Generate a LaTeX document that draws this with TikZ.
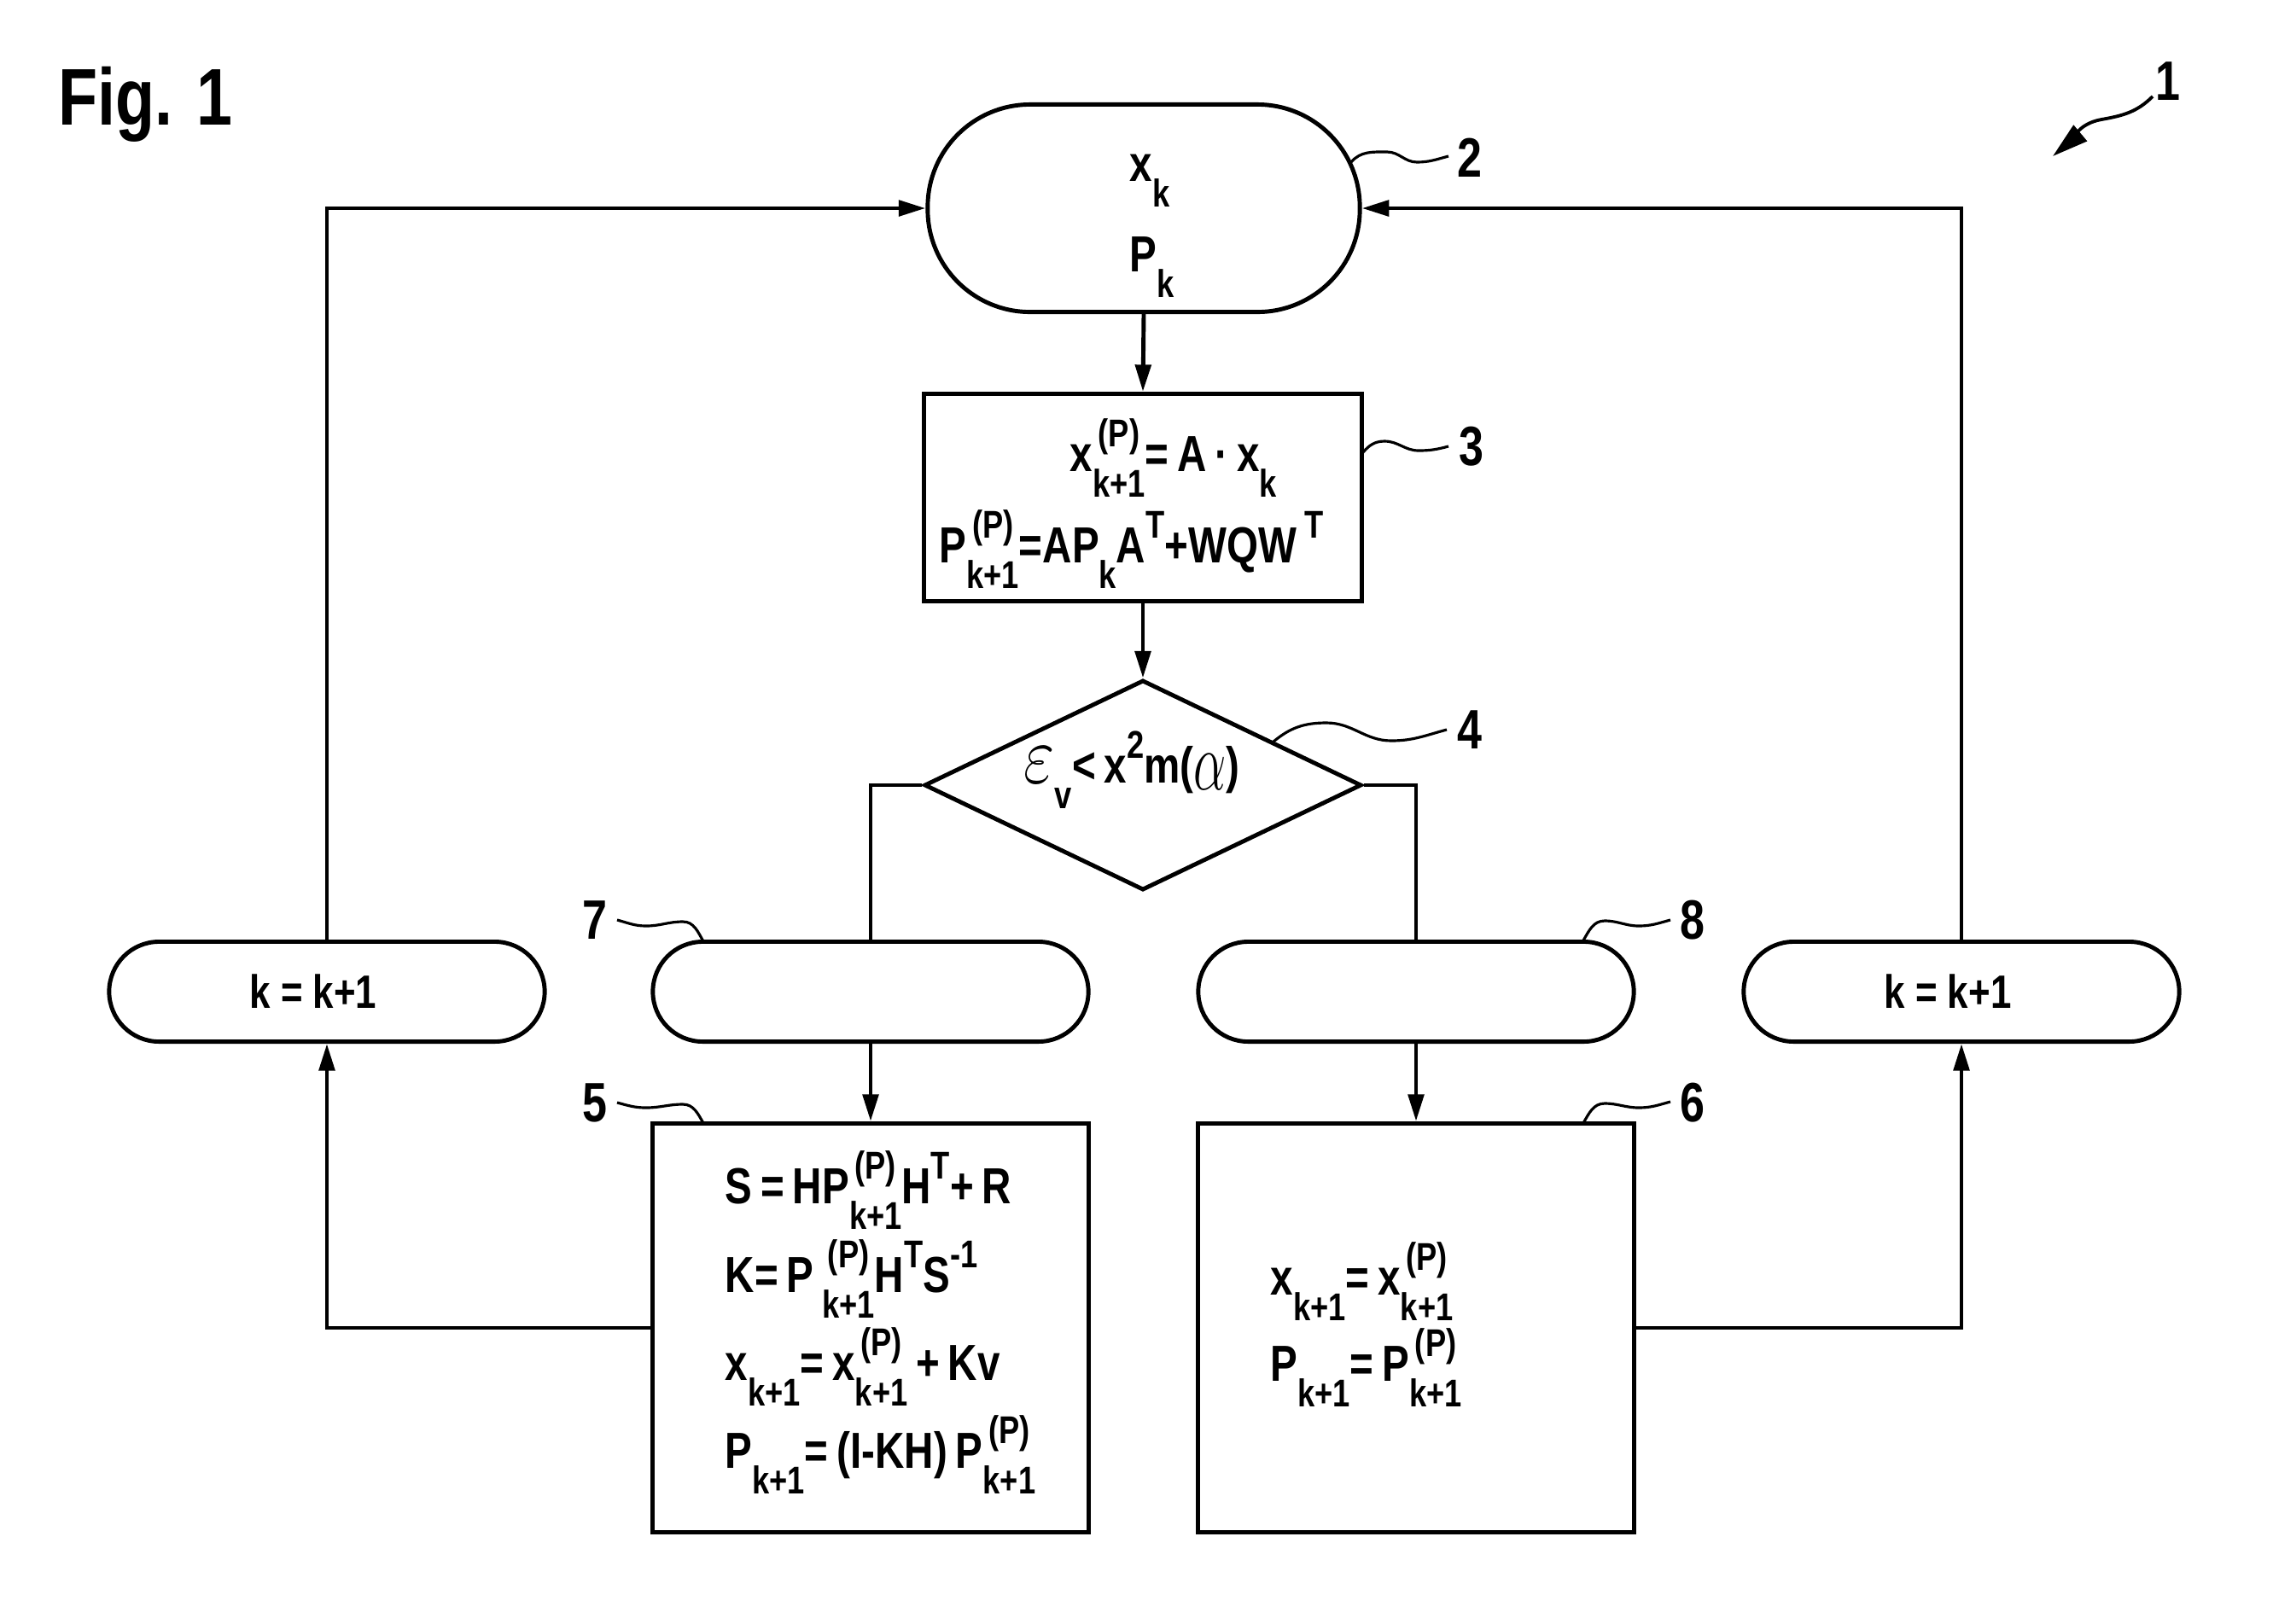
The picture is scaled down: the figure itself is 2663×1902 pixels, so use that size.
\documentclass[tikz,border=0pt]{standalone}
\usepackage{fontspec}
\setmainfont{Liberation Sans}[FakeStretch=0.8]
\usetikzlibrary{arrows.meta,shapes.geometric}
\newsavebox\supbox
\newsavebox\subbox
\newlength\sslen
\newcommand\SUP[1]{\raisebox{0.48em}{\fontsize{12.9}{12.9}\selectfont #1}}
\newcommand\SUB[1]{\raisebox{-0.52em}{\fontsize{12.9}{12.9}\selectfont #1}}
\newcommand\SUPSUB[2]{\sbox\supbox{\SUP{#1}}\sbox\subbox{\SUB{#2}}\setlength\sslen{\wd\supbox}\ifdim\wd\subbox>\sslen\setlength\sslen{\wd\subbox}\fi\makebox[\sslen]{\makebox[0pt]{\usebox\supbox}\makebox[0pt]{\usebox\subbox}}}
\tikzset{
  shape line/.style={draw, line width=1.4pt},
  box/.style={shape line, rectangle, inner sep=0pt},
  pill/.style={shape line, rectangle, rounded corners=0.585cm, minimum width=5.1cm, minimum height=1.17cm, inner sep=0pt, font=\bfseries\fontsize{15.6}{17}\selectfont},
  formula/.style={inner sep=0pt, anchor=base west, font=\bfseries\fontsize{16.9}{19}\selectfont},
  refnum/.style={inner sep=0pt, font=\bfseries\fontsize{18.5}{20}\selectfont},
  conn/.style={line width=1.4pt},
  arr/.style={conn, -{Triangle[length=9pt,width=5.2pt]}},
  lead/.style={line width=0.9pt},
}
\begin{document}
\begin{tikzpicture}[x=0.01cm,y=-0.01cm]
\useasboundingbox (0,0) rectangle (2663,1902);

% title
\node[inner sep=0pt, anchor=base west, font=\bfseries\fontsize{26.8}{29}\selectfont] (fig) at (68,146) {Fig. 1};

% main shapes
\node[shape line, rectangle, rounded corners=1.2cm, minimum width=5.06cm, minimum height=2.43cm] (n2) at (1340,244) {};
\node[box, minimum width=5.12cm, minimum height=2.43cm] (b3) at (1339,583) {};
\node[shape line, diamond, inner sep=0pt, minimum width=5.12cm, minimum height=2.46cm] (d4) at (1339,920) {};
\node[pill] (kL) at (383,1162) {k = k+1\kern0.32cm};
\node[pill] (n7) at (1020,1162) {};
\node[pill] (n8) at (1659,1162) {};
\node[pill] (kR) at (2298,1162) {k = k+1\kern0.32cm};
\node[box, minimum width=5.1cm, minimum height=4.79cm] (b5) at (1020,1556) {};
\node[box, minimum width=5.1cm, minimum height=4.79cm] (b6) at (1659,1556) {};

% texts
\node[formula] (t2a) at (1323,212) {x\SUB{k}};
\node[formula] (t2b) at (1323,318) {P\SUB{k}};
\node[formula] (t3a) at (1253,552) {x\SUPSUB{(P)}{k+1}=\,A\,·\,x\SUB{k}};
\node[formula] (t3b) at (1100,659) {P\SUPSUB{(P)}{k+1}=AP\SUB{k}A\SUP{T}+WQW\,\SUP{T}};
\node[formula] (t4) at (1199,917) {\scalebox{1.3}[1.6]{$\varepsilon$}\SUB{v}<\,x\SUP{2}m(\raisebox{-0.15em}{\scalebox{1}[1.6]{$\alpha$}})};
\node[formula] (t5a) at (849,1410) {S\,=\,HP\SUPSUB{(P)}{k+1}H\SUP{T}+\,R};
\node[formula] (t5b) at (849,1514) {K=\,P\,\SUPSUB{(P)}{k+1}H\SUP{T}S\SUP{-1}};
\node[formula] (t5c) at (849,1617) {x\SUB{k+1}=\,x\SUPSUB{(P)}{k+1}\,+\,Kv};
\node[formula] (t5d) at (849,1720) {P\SUB{k+1}=\,(I-KH)\,P\SUPSUB{(P)}{k+1}};
\node[formula] (t6a) at (1488,1517) {x\SUB{k+1}=\,x\SUPSUB{(P)}{k+1}};
\node[formula] (t6b) at (1488,1618) {P\SUB{k+1}=\,P\SUPSUB{(P)}{k+1}};

% connectors
\draw[arr] (n2.south) -- (b3.north);
\draw[arr] (b3.south) -- (d4.north);
\draw[conn] (d4.west) -| (n7.north);
\draw[conn] (d4.east) -| (n8.north);
\draw[arr] (n7.south) -- (b5.north);
\draw[arr] (n8.south) -- (b6.north);
\draw[arr] (b5.west) -| (kL.south);
\draw[arr] (kL.north) |- (n2.west);
\draw[arr] (b6.east) -| (kR.south);
\draw[arr] (kR.north) |- (n2.east);

% reference numerals
\node[refnum] (l1) at (2540,95) {1};
\node[refnum] (l2) at (1722,185) {2};
\node[refnum] (l3) at (1724,523) {3};
\node[refnum] (l4) at (1722,855) {4};
\node[refnum] (l5) at (697,1292) {5};
\node[refnum] (l6) at (1983,1292) {6};
\node[refnum] (l7) at (697,1078) {7};
\node[refnum] (l8) at (1983,1078) {8};

% leader lines
\draw[lead] (1583,190) to[out=50,in=180] (1625,178) to[out=0,in=180] (1660,190) to[out=0,in=195] (1697,183);
\draw[lead] (1597,530) to[out=50,in=180] (1622,517) to[out=0,in=180] (1662,528) to[out=0,in=195] (1697,523);
\draw[lead] (1492,869) to[out=40,in=180] (1554,847) to[out=0,in=180] (1630,868) to[out=0,in=195] (1695,855);
\draw[lead] (1855,1102) to[out=60,in=180] (1880,1079) to[out=0,in=180] (1920,1085) to[out=0,in=195] (1957,1078);
\draw[lead] (1855,1316) to[out=60,in=180] (1880,1293) to[out=0,in=180] (1920,1298) to[out=0,in=195] (1957,1291);
\draw[lead] (723,1078) to[out=-15,in=180] (757,1085) to[out=0,in=180] (800,1080) to[out=0,in=120] (824,1103);
\draw[lead] (723,1292) to[out=-15,in=180] (757,1298) to[out=0,in=180] (800,1294) to[out=0,in=120] (824,1316);

% arrow of reference 1
\coordinate (s1) at (2522,113);
\coordinate (a1) at (2405,183);
\draw[line width=1.1pt, -{Triangle[length=12pt,width=6.8pt]}] (s1) to[out=225,in=10] (2462,140) to[out=190,in=40] (a1);
\end{tikzpicture}
\end{document}
